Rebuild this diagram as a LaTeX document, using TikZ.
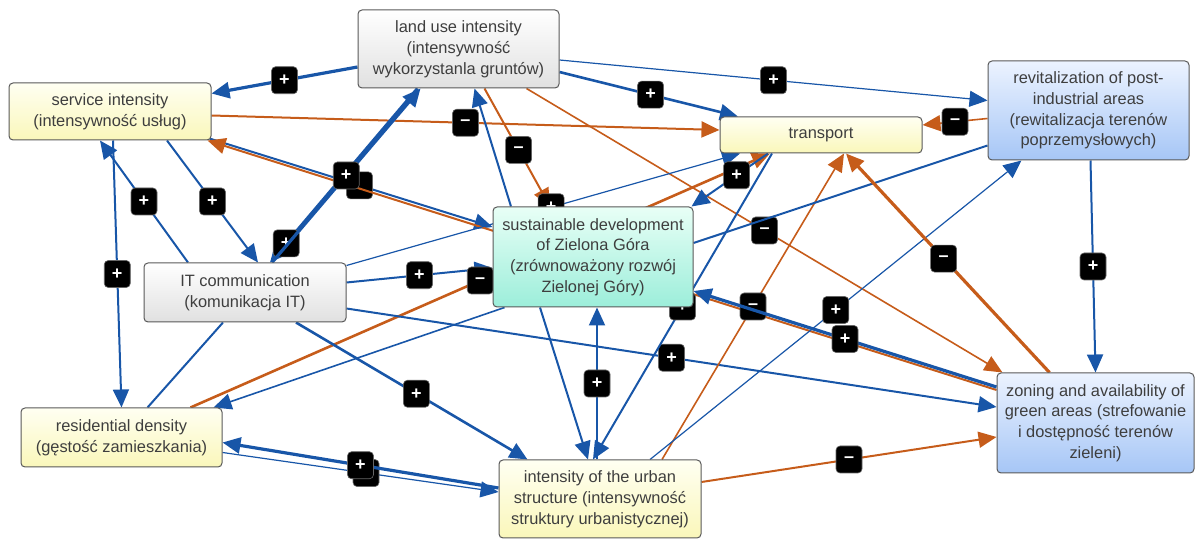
\documentclass[tikz,border=0pt]{standalone}
\usepackage{fontspec}
\setmainfont{Liberation Sans}
\usepackage{tikz}
\usetikzlibrary{arrows.meta,calc}

\definecolor{linkblue}{RGB}{24,86,168}
\definecolor{linkorange}{RGB}{198,92,26}
\definecolor{txtgray}{RGB}{62,62,62}
\pgfdeclarelayer{links}
\pgfsetlayers{links,main}

\begin{document}
\begin{tikzpicture}[x=0.5pt,y=-0.5pt,
        font=\fontsize{8.2}{10.4}\selectfont,
        concept/.style={draw=black!65, rounded corners=2pt, line width=0.5pt,
            align=center, text=txtgray, inner sep=0pt},
        yel/.style={concept, top color={rgb,255:red,255;green,255;blue,242},
            bottom color={rgb,255:red,250;green,247;blue,186}},
        gry/.style={concept, top color=white, bottom color=black!12},
        blu/.style={concept, top color={rgb,255:red,236;green,243;blue,255},
            bottom color={rgb,255:red,166;green,198;blue,246}},
        mint/.style={concept, top color={rgb,255:red,232;green,255;blue,246},
            bottom color={rgb,255:red,156;green,238;blue,218}},
        sign/.style={fill=black, draw=black!60, line width=0.3pt, rounded corners=2pt,
            text=white, minimum width=13pt, minimum height=13.5pt, inner sep=0pt,
            font=\fontsize{9}{9}\selectfont\bfseries},
        link/.style={-{Triangle[length=9pt,width=8pt]}, line width=1pt},
        pluslink/.style={link, draw=linkblue},
        minuslink/.style={link, draw=linkorange}
    ]
    \useasboundingbox (0,0) rectangle (1195,539);

    %concepts
    \node[gry, minimum width=100.5pt, minimum height=39pt] (lui) at (458.5,49)
        {land use intensity\\(intensywność\\wykorzystanla gruntów)};
    \node[yel, minimum width=101pt, minimum height=28.5pt] (svc) at (110,111.5)
        {service intensity\\(intensywność usług)};
    \node[yel, minimum width=101pt, minimum height=18pt] (tr) at (821,135) {transport};
    \node[blu, minimum width=100.5pt, minimum height=49.5pt] (rev) at (1088.5,110.5)
        {revitalization of post-\\industrial areas\\(rewitalizacja terenów\\poprzemysłowych)};
    \node[mint, minimum width=100pt, minimum height=50pt] (sd) at (593,257)
        {sustainable development\\of Zielona Góra\\(zrównoważony rozwój\\Zielonej Góry)};
    \node[gry, minimum width=101pt, minimum height=29.5pt] (itc) at (245,292.5)
        {IT communication\\(komunikacja IT)};
    \node[yel, minimum width=100.5pt, minimum height=29.5pt] (res) at (121.5,437.5)
        {residential density\\(gęstość zamieszkania)};
    \node[yel, minimum width=101pt, minimum height=39pt] (ius) at (600,499)
        {intensity of the urban\\structure (intensywność\\struktury urbanistycznej)};
    \node[blu, minimum width=98.5pt, minimum height=50pt] (zon) at (1095.5,423)
        {zoning and availability of\\green areas (strefowanie\\i dostępność terenów\\zieleni)};

    %links
    \begin{pgfonlayer}{links}
    \draw[pluslink, line width=1.6pt] ($(lui.west)+(0,18)$) -- node[sign]{+} ($(svc.east)+(0,-18)$);
    \draw[pluslink, line width=0.6pt] ($(lui.east)+(0,11)$) -- node[sign]{+} ($(rev.west)+(0,-10)$);
    \draw[pluslink, line width=1.3pt] ($(lui.east)+(0,23)$) -- node[sign,pos=.51]{+} ($(tr.north)+(-83,0)$);
    \draw[minuslink] ($(svc.east)+(0,4)$) -- node[sign]{\textendash} ($(tr.west)+(0,-5)$);
    \draw[minuslink] ($(lui.south)+(26,0)$) -- node[sign,pos=.52]{\textendash} ($(sd.north)+(-43,0)$);
    \draw[minuslink, line width=0.8pt] ($(lui.south)+(68,0)$) -- node[sign]{\textendash} ($(zon.north west)+(6,0)$);
    \draw[pluslink] ($(sd.north)+(-82,0)$) -- ($(lui.south)+(16,0)$);
    \draw[pluslink] ($(svc.south east)+(-2,-2)$) -- node[sign,pos=.53]{} ($(sd.west)+(0,-30)$);
    \draw[minuslink] ($(zon.west)+(0,-33)$) -- ($(svc.south east)+(-4,0)$);
    \draw[pluslink, line width=1.6pt] ($(lui.south)+(-41,0)$) -- node[sign,pos=.89]{+} ($(itc.north)+(25,0)$);
    \draw[pluslink, line width=1.6pt] ($(itc.north)+(27,0)$) -- node[sign]{+} ($(lui.south)+(-38,0)$);
    \draw[pluslink] ($(svc.south)+(57,0)$) -- node[sign]{+} ($(itc.north)+(13,0)$);
    \draw[pluslink] ($(itc.north)+(-57,0)$) -- node[sign]{+} ($(svc.south)+(-10,0)$);
    \draw[pluslink] ($(svc.south)+(3,0)$) -- node[sign]{+} (res.north);
    \draw[pluslink, -] ($(res.north)+(26,0)$) -- ($(itc.south)+(-22,0)$);
    \draw[pluslink] ($(itc.east)+(0,-10)$) -- node[sign]{+} ($(sd.west)+(0,11)$);
    \draw[minuslink, line width=1.3pt] ($(res.north)+(69,0)$) -- node[sign]{\textendash} ($(tr.south)+(-51,0)$);
    \draw[pluslink, line width=0.8pt] ($(sd.south west)+(12,0)$) -- ($(res.north east)+(-9,0)$);
    \draw[pluslink, line width=1.3pt] ($(itc.south)+(51,0)$) -- node[sign,pos=.52]{+} ($(ius.north west)+(29,0)$);
    \draw[pluslink] ($(itc.east)+(0,16)$) -- node[sign]{+} ($(zon.west)+(0,-16)$);
    \draw[pluslink, line width=0.6pt] ($(itc.east)+(0,-27)$) -- node[sign,pos=.52]{+} ($(tr.south)+(-81,0)$);
    \draw[pluslink] ($(tr.south)+(-53,0)$) -- node[sign,pos=.41]{+} ($(sd.north east)+(-2,0)$);
    \draw[pluslink] ($(tr.south)+(-49,0)$) -- node[sign]{+} ($(ius.north)+(-7,0)$);
    \draw[pluslink] ($(ius.north)+(-3,0)$) -- node[sign]{+} ($(sd.south)+(4,0)$);
    \draw[pluslink] ($(sd.south)+(-53,0)$) -- ($(ius.north)+(-12,0)$);
    \draw[pluslink, line width=0.6pt] ($(res.east)+(0,15)$) -- node[sign,pos=.52]{} ($(ius.west)+(0,-7)$);
    \draw[pluslink, line width=1.6pt] ($(ius.west)+(0,-11)$) -- node[sign]{+} ($(res.east)+(0,5)$);
    \draw[minuslink] ($(ius.east)+(0,-17)$) -- node[sign]{\textendash} ($(zon.west)+(0,14)$);
    \draw[minuslink, line width=0.8pt] ($(ius.north)+(62,0)$) -- node[sign]{\textendash} ($(tr.south)+(23,0)$);
    \draw[pluslink, line width=0.6pt] ($(ius.north)+(50,0)$) -- node[sign]{+} ($(rev.south)+(-67,0)$);
    \draw[pluslink, line width=1.6pt] ($(zon.west)+(0,-36)$) -- node[sign]{+} ($(sd.east)+(0,34)$);
    \draw[minuslink, line width=0.8pt] ($(rev.west)+(0,8)$) -- node[sign]{\textendash} ($(tr.east)+(0,-10)$);
    \draw[pluslink] ($(rev.south)+(2,0)$) -- node[sign]{+} (zon.north);
    \draw[pluslink, -] ($(sd.east)+(0,-14)$) -- ($(rev.west)+(0,35)$);
    \draw[minuslink, line width=1.6pt] ($(zon.north)+(-46,0)$) -- node[sign,pos=.52]{\textendash} ($(tr.south)+(25,0)$);
    \end{pgfonlayer}
\end{tikzpicture}
\end{document}
